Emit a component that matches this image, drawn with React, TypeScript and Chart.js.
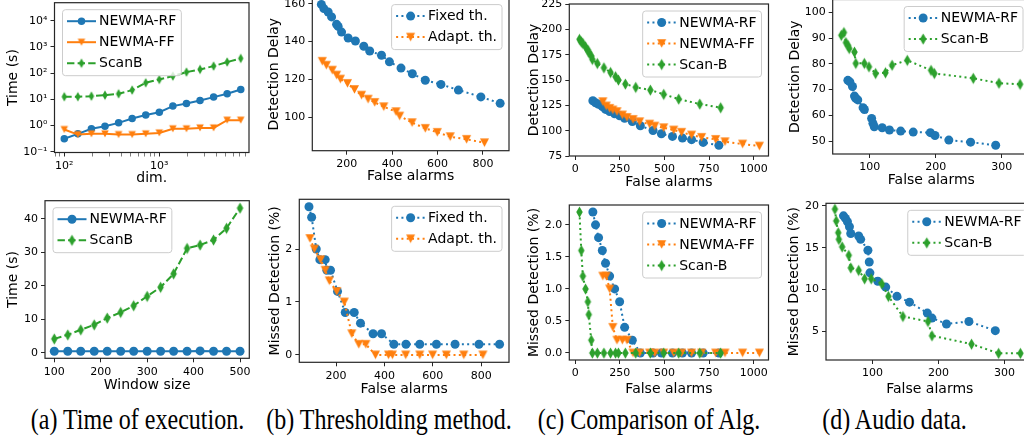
import React, { useEffect, useRef } from "react";
import { Chart, registerables } from "chart.js";

Chart.register(...registerables);

const FONT = '"DejaVu Sans", "Liberation Sans", sans-serif';
const TICK_SIZE = 11;
const TITLE_SIZE = 14;
const LEGEND_SIZE = 14;

const BLUE = "#1f77b4";
const ORANGE = "#ff7f0e";
const GREEN = "#2ca02c";

// ---------- (a) top : time vs dimension (log-log) ----------
const dims = [100, 139, 193, 268, 373, 518, 720, 1000, 1389, 1931, 2683, 3728, 5179, 7197];
const dimTimeRF = [0.31, 0.48, 0.75, 0.94, 1.26, 1.85, 2.5, 3.2, 5.5, 6.9, 9.0, 12.1, 16.2, 23.8];
const dimTimeFF = [0.7, 0.45, 0.48, 0.48, 0.45, 0.45, 0.48, 0.52, 0.75, 0.75, 0.81, 0.81, 1.6, 1.6];
const dimTimeScanB = [12.5, 12.5, 13.2, 14.4, 16.2, 22.4, 42.7, 57, 77, 109, 138, 185, 264, 363];
const dimMajorTicks = [100, 1000];
const dimMinorTicks = [80, 90, 200, 300, 400, 500, 600, 700, 800, 900, 2000, 3000, 4000, 5000, 6000, 7000, 8000];
const dimTimeTicks = [0.1, 1, 10, 100, 1000, 10000];

// ---------- (a) bottom : time vs window size ----------
const windowSizes = [100, 129, 157, 186, 214, 243, 271, 300, 329, 357, 386, 414, 443, 471, 500];
const winTimeRF = [0.5, 0.5, 0.5, 0.5, 0.5, 0.5, 0.5, 0.5, 0.5, 0.5, 0.5, 0.6, 0.5, 0.5, 0.5];
const winTimeScanB = [4.2, 5.4, 6.9, 8.4, 10.4, 12.1, 14.1, 16.9, 19.6, 23.6, 31.2, 32.2, 33.7, 37.2, 43.2];
const winTicks = [100, 200, 300, 400, 500];
const winTimeTicks = [0, 10, 20, 30, 40];

// ---------- (b) thresholding method ----------
const fixedFA = [88, 99, 118, 133, 155, 162, 177, 206, 238, 275, 301, 353, 388, 439, 489, 546, 615, 692, 791, 876];
const fixedDelay = [159.6, 157.4, 155.6, 153, 149.1, 148, 145, 141.9, 140.3, 137.5, 135, 132.8, 129.3, 126, 123, 119.6, 117.4, 114.4, 110.8, 107.4];
const fixedMissed = [2.8, 2.6, 2.0, 1.8, 1.8, 1.6, 1.6, 1.2, 0.8, 0.8, 0.6, 0.4, 0.4, 0.2, 0.2, 0.2, 0.2, 0.2, 0.2, 0.2];
const adaptFA = [92, 110, 136, 155, 172, 203, 234, 265, 294, 323, 363, 417, 433, 488, 546, 599, 656, 728, 807];
const adaptDelay = [129.6, 127.5, 124.9, 122.3, 120.2, 117.9, 114.7, 111.7, 109.6, 107.9, 105.6, 103, 100.7, 97.2, 94.2, 92.1, 89.8, 88.4, 86.6];
const adaptMissed = [2.2, 2.0, 1.8, 1.6, 1.4, 1.2, 1.0, 0.4, 0.2, 0.2, 0, 0, 0, 0, 0, 0, 0, 0, 0];
const bFATicks = [200, 400, 600, 800];
const bDelayTicks = [100, 120, 140, 160];
const bMissedTicks = [0, 1, 2];

// ---------- (c) comparison of algorithms ----------
const cRfFA = [99, 114, 131, 152, 170, 193, 221, 249, 277, 320, 365, 436, 483, 545, 601, 652, 717, 805];
const cRfDelay = [129.5, 127.6, 126, 123.7, 121, 118.8, 116.6, 114.6, 112.3, 109, 104.8, 100.2, 97, 94.3, 92.7, 91.1, 88.4, 85.5];
const cRfMissed = [2.2, 2.0, 1.8, 1.6, 1.4, 1.2, 1.0, 0.8, 0.4, 0.2, 0, 0, 0, 0, 0, 0, 0, 0];
const cFfFA = [155, 174, 193, 211, 234, 264, 290, 324, 361, 417, 446, 496, 552, 596, 652, 708, 787, 839, 938, 1032];
const cFfDelay = [128.6, 124.4, 122, 120.4, 118.8, 115.5, 113.1, 111.1, 108.8, 106.5, 104.5, 102.9, 100.6, 98.4, 95.7, 93.4, 91.4, 89.1, 86.8, 84.8];
const cFfMissed = [1.2, 1.2, 1.0, 0.4, 0.2, 0.2, 0.2, 0, 0, 0, 0, 0, 0, 0, 0, 0, 0, 0, 0, 0];
const cScanFA = [24, 34, 43, 58, 71, 76, 90, 96, 124, 161, 198, 226, 242, 281, 339, 421, 496, 580, 698, 815];
const cScanDelay = [190.2, 187.8, 186.2, 182.8, 179.6, 177.3, 173.7, 170.4, 166.4, 162.1, 157.5, 153.3, 150, 146.1, 142.8, 140.1, 135.9, 131.2, 126.3, 122.7];
const cScanMissed = [2.2, 1.6, 1.2, 1.0, 0.8, 0.6, 0.2, 0, 0, 0, 0, 0, 0, 0, 0, 0, 0, 0, 0, 0];
const cFATicks = [0, 250, 500, 750, 1000];
const cDelayTicks = [75, 100, 125, 150, 175, 200, 225];
const cMissedTicks = [0, 0.5, 1.0, 1.5, 2.0];

// ---------- (d) audio data ----------
const dRfFA = [67, 70, 74, 77, 79, 82, 90, 92, 103, 105, 107, 119, 130, 147, 166, 192, 199, 220, 253, 291];
const dRfDelay = [73.6, 73, 71.2, 67.5, 66.6, 66, 63, 62.3, 58.8, 56.9, 55.6, 55.2, 54.3, 53.9, 53.5, 53.3, 52.2, 50.4, 49.6, 48.4];
const dScanFA = [57, 61, 64, 67, 69, 77, 79, 92, 99, 109, 124, 134, 157, 193, 198, 257, 296, 328];
const dScanDelay = [91.1, 92.2, 88.3, 87.2, 86, 84.6, 80.2, 80.2, 78.9, 76.3, 76.6, 79.5, 81.4, 77.5, 76.3, 74.4, 72.5, 72.1];
const d2RfFA = [56, 59, 62, 65, 67, 79, 82, 93, 95, 96, 108, 120, 137, 156, 183, 190, 212, 246, 286];
const d2RfMissed = [18.8, 18.5, 18.1, 17.5, 16.7, 16.4, 16.0, 14.7, 13.3, 12.0, 11.0, 10.3, 9.2, 8.5, 7.2, 6.6, 5.9, 6.2, 5.1];
const d2ScanFA = [43, 45, 48, 49, 54, 64, 67, 79, 88, 98, 114, 124, 146, 184, 190, 250, 291, 324];
const d2ScanMissed = [19.6, 18.2, 16.8, 16.0, 15.1, 14.1, 12.6, 12.3, 11.3, 11.3, 10.7, 9.2, 6.8, 6.2, 4.5, 3.5, 2.4, 2.4];
const dFATicks = [100, 200, 300];
const dDelayTicks = [50, 60, 70, 80, 90, 100];
const dMissedTicks = [5, 10, 15, 20];

const captions = ["(a) Time of execution.", "(b) Thresholding method.", "(c) Comparison of Alg.", "(d) Audio data."];

// ---------- types ----------
type LineKind = "solid" | "dashed" | "dotted";
type MarkerKind = "o" | "v" | "d";
type Series = { label: string; x: number[]; y: number[]; color: string; line: LineKind; marker: MarkerKind };
type Box = { l: number; t: number; r: number; b: number };
type PanelDef = {
  box: Box;
  yTitleX: number;
  xTitleY: number;
  xLog?: boolean;
  yLog?: boolean;
  xMin: number;
  xMax: number;
  yMin: number;
  yMax: number;
  xTicks: number[];
  xMajor?: number[];
  yTicks: number[];
  xFmt: (v: number) => string;
  yFmt: (v: number) => string;
  xTitle: string;
  yTitle: string;
  series: Series[];
  legendLoc: "left" | "right";
  ms: number;
};

const SUP: Record<string, string> = { "-": "⁻", "0": "⁰", "1": "¹", "2": "²", "3": "³", "4": "⁴", "5": "⁵" };
const isDecade = (v: number) => Math.abs(Math.log10(v) - Math.round(Math.log10(v))) < 1e-9;
const logFmt = (v: number) => (isDecade(v) ? "10" + String(Math.round(Math.log10(v))).split("").map((c) => SUP[c]).join("") : "");
const intFmt = (v: number) => String(v);
const oneDec = (v: number) => v.toFixed(1);

const DASH: Record<LineKind, number[]> = { solid: [], dashed: [7.4, 3.2], dotted: [2, 3.3] };

function makeMarker(kind: MarkerKind, color: string, ms: number): any {
  if (kind === "o") return "circle";
  const w = kind === "v" ? ms : ms * 0.72;
  const h = kind === "v" ? ms * 0.95 : ms * 1.25;
  const c = document.createElement("canvas");
  c.width = Math.ceil(w) + 2;
  c.height = Math.ceil(h) + 2;
  const ctx = c.getContext("2d")!;
  const cx = c.width / 2;
  const cy = c.height / 2;
  ctx.fillStyle = color;
  ctx.beginPath();
  if (kind === "v") {
    ctx.moveTo(cx - w / 2, cy - h / 2);
    ctx.lineTo(cx + w / 2, cy - h / 2);
    ctx.lineTo(cx, cy + h / 2);
  } else {
    ctx.moveTo(cx, cy - h / 2);
    ctx.lineTo(cx + w / 2, cy);
    ctx.lineTo(cx, cy + h / 2);
    ctx.lineTo(cx - w / 2, cy);
  }
  ctx.closePath();
  ctx.fill();
  return c;
}

function roundRect(ctx: CanvasRenderingContext2D, x: number, y: number, w: number, h: number, r: number) {
  ctx.beginPath();
  ctx.moveTo(x + r, y);
  ctx.lineTo(x + w - r, y);
  ctx.arcTo(x + w, y, x + w, y + r, r);
  ctx.lineTo(x + w, y + h - r);
  ctx.arcTo(x + w, y + h, x + w - r, y + h, r);
  ctx.lineTo(x + r, y + h);
  ctx.arcTo(x, y + h, x, y + h - r, r);
  ctx.lineTo(x, y + r);
  ctx.arcTo(x, y, x + r, y, r);
  ctx.closePath();
}

const mplPlugin = {
  id: "mpl",
  afterDatasetsDraw(chart: any, _args: any, opts: any) {
    const ctx: CanvasRenderingContext2D = chart.ctx;
    const a = chart.chartArea;
    ctx.save();
    ctx.setLineDash([]);
    ctx.strokeStyle = "#262626";
    ctx.lineWidth = 1.2;
    ctx.strokeRect(a.left, a.top, a.right - a.left, a.bottom - a.top);

    const items = chart.data.datasets;
    ctx.font = `${LEGEND_SIZE}px ${FONT}`;
    let tw = 0;
    items.forEach((d: any) => {
      tw = Math.max(tw, ctx.measureText(d.label).width);
    });
    const padL = 4.5, handle = 29, gap = 3, padR = 5, rowH = 21;
    const w = padL + handle + gap + tw + padR;
    const h = items.length * rowH + 3;
    const x0 = opts.loc === "left" ? a.left + 8 : a.right - 7 - w;
    const y0 = a.top + 7;
    roundRect(ctx, x0, y0, w, h, 3);
    ctx.fillStyle = "rgba(255,255,255,0.8)";
    ctx.fill();
    ctx.strokeStyle = "#cccccc";
    ctx.lineWidth = 1;
    ctx.stroke();
    items.forEach((d: any, i: number) => {
      const cy = y0 + 11.5 + i * rowH;
      const hx = x0 + padL;
      ctx.beginPath();
      ctx.setLineDash(d.borderDash || []);
      ctx.lineCap = "butt";
      ctx.strokeStyle = d.borderColor;
      ctx.lineWidth = d.borderWidth;
      ctx.moveTo(hx, cy);
      ctx.lineTo(hx + handle, cy);
      ctx.stroke();
      ctx.setLineDash([]);
      const mx = hx + handle / 2;
      const ps = d.pointStyle;
      if (typeof ps === "string") {
        ctx.beginPath();
        ctx.arc(mx, cy, d.pointRadius, 0, Math.PI * 2);
        ctx.fillStyle = d.backgroundColor;
        ctx.fill();
      } else {
        ctx.drawImage(ps, mx - ps.width / 2, cy - ps.height / 2);
      }
      ctx.fillStyle = "#000";
      ctx.textBaseline = "middle";
      ctx.textAlign = "left";
      ctx.fillText(d.label, hx + handle + gap, cy + 0.5);
    });
    ctx.restore();
  },
};

function buildConfig(def: PanelDef, yW: number, xH: number, padTop: number, padRight: number): any {
  const n = def.series.length;
  const datasets = def.series.map((s, i) => ({
    label: s.label,
    data: s.x.map((x, k) => ({ x, y: s.y[k] })),
    showLine: true,
    borderColor: s.color,
    backgroundColor: s.color,
    borderWidth: 2,
    borderDash: DASH[s.line],
    borderCapStyle: "butt",
    pointStyle: makeMarker(s.marker, s.color, def.ms),
    pointRadius: def.ms / 2,
    pointBorderWidth: 0,
    pointBackgroundColor: s.color,
    pointBorderColor: s.color,
    tension: 0,
    order: n - i,
  }));
  const majorSet = new Set(def.xMajor || def.xTicks);
  const tickFont = { family: FONT, size: TICK_SIZE };
  const titleFont = { family: FONT, size: TITLE_SIZE };
  return {
    type: "scatter",
    data: { datasets },
    options: {
      animation: false,
      responsive: true,
      maintainAspectRatio: false,
      events: [],
      layout: { padding: { left: 0, top: padTop, right: padRight, bottom: 0 } },
      plugins: { legend: { display: false }, tooltip: { enabled: false }, mpl: { loc: def.legendLoc } },
      scales: {
        x: {
          type: def.xLog ? "logarithmic" : "linear",
          min: def.xMin,
          max: def.xMax,
          afterBuildTicks: (s: any) => {
            s.ticks = def.xTicks.map((v) => ({ value: v }));
          },
          afterFit: (s: any) => {
            s.height = xH;
          },
          border: { display: false },
          grid: {
            drawOnChartArea: false,
            drawTicks: true,
            tickLength: 4,
            tickColor: "#262626",
            tickWidth: (c: any) => (c.tick && majorSet.has(c.tick.value) ? 1 : 0.6),
          },
          ticks: {
            autoSkip: false,
            maxRotation: 0,
            minRotation: 0,
            padding: 3,
            color: "#000",
            font: tickFont,
            callback: (v: any) => def.xFmt(Number(v)),
          },
          title: { display: true, text: def.xTitle, color: "#000", font: titleFont, padding: 0 },
        },
        y: {
          type: def.yLog ? "logarithmic" : "linear",
          min: def.yMin,
          max: def.yMax,
          afterBuildTicks: (s: any) => {
            s.ticks = def.yTicks.map((v) => ({ value: v }));
          },
          afterFit: (s: any) => {
            s.width = yW;
          },
          border: { display: false },
          grid: { drawOnChartArea: false, drawTicks: true, tickLength: 4, tickColor: "#262626", tickWidth: 1 },
          ticks: {
            autoSkip: false,
            padding: 3,
            color: "#000",
            font: tickFont,
            callback: (v: any) => def.yFmt(Number(v)),
          },
          title: { display: true, text: def.yTitle, color: "#000", font: titleFont, padding: 0 },
        },
      },
    },
    plugins: [mplPlugin],
  };
}

const panels: PanelDef[] = [
  {
    box: { l: 54.5, t: 2.7, r: 249, b: 152.5 },
    yTitleX: 13.7,
    xTitleY: 179,
    xLog: true,
    yLog: true,
    xMin: 78.9,
    xMax: 8790,
    yMin: 0.093,
    yMax: 48700,
    xTicks: [...dimMinorTicks, ...dimMajorTicks].sort((a, b) => a - b),
    xMajor: dimMajorTicks,
    yTicks: dimTimeTicks,
    xFmt: logFmt,
    yFmt: logFmt,
    xTitle: "dim.",
    yTitle: "Time (s)",
    legendLoc: "left",
    ms: 7.5,
    series: [
      { label: "NEWMA-RF", x: dims, y: dimTimeRF, color: BLUE, line: "solid", marker: "o" },
      { label: "NEWMA-FF", x: dims, y: dimTimeFF, color: ORANGE, line: "solid", marker: "v" },
      { label: "ScanB", x: dims, y: dimTimeScanB, color: GREEN, line: "dashed", marker: "d" },
    ],
  },
  {
    box: { l: 312.3, t: -2.4, r: 509, b: 150.7 },
    yTitleX: 274,
    xTitleY: 176.5,
    xMin: 48,
    xMax: 915,
    yMin: 82.4,
    yMax: 163.2,
    xTicks: bFATicks,
    yTicks: bDelayTicks,
    xFmt: intFmt,
    yFmt: intFmt,
    xTitle: "False alarms",
    yTitle: "Detection Delay",
    legendLoc: "right",
    ms: 9,
    series: [
      { label: "Fixed th.", x: fixedFA, y: fixedDelay, color: BLUE, line: "dotted", marker: "o" },
      { label: "Adapt. th.", x: adaptFA, y: adaptDelay, color: ORANGE, line: "dotted", marker: "v" },
    ],
  },
  {
    box: { l: 569.3, t: 4, r: 768.5, b: 156 },
    yTitleX: 534.5,
    xTitleY: 183,
    xMin: -33,
    xMax: 1083,
    yMin: 75,
    yMax: 225,
    xTicks: cFATicks,
    yTicks: cDelayTicks,
    xFmt: intFmt,
    yFmt: intFmt,
    xTitle: "False alarms",
    yTitle: "Detection Delay",
    legendLoc: "right",
    ms: 9,
    series: [
      { label: "NEWMA-RF", x: cRfFA, y: cRfDelay, color: BLUE, line: "dotted", marker: "o" },
      { label: "NEWMA-FF", x: cFfFA, y: cFfDelay, color: ORANGE, line: "dotted", marker: "v" },
      { label: "Scan-B", x: cScanFA, y: cScanDelay, color: GREEN, line: "dotted", marker: "d" },
    ],
  },
  {
    box: { l: 832.7, t: -0.5, r: 1030, b: 154 },
    yTitleX: 795,
    xTitleY: 180.5,
    xMin: 44,
    xMax: 343,
    yMin: 45,
    yMax: 105,
    xTicks: dFATicks,
    yTicks: dDelayTicks,
    xFmt: intFmt,
    yFmt: intFmt,
    xTitle: "False alarms",
    yTitle: "Detection Delay",
    legendLoc: "right",
    ms: 9,
    series: [
      { label: "NEWMA-RF", x: dRfFA, y: dRfDelay, color: BLUE, line: "dotted", marker: "o" },
      { label: "Scan-B", x: dScanFA, y: dScanDelay, color: GREEN, line: "dotted", marker: "d" },
    ],
  },
  {
    box: { l: 45, t: 200.7, r: 249.3, b: 358.3 },
    yTitleX: 13.7,
    xTitleY: 385.5,
    xMin: 80,
    xMax: 520,
    yMin: -1.6,
    yMax: 45.4,
    xTicks: winTicks,
    yTicks: winTimeTicks,
    xFmt: intFmt,
    yFmt: intFmt,
    xTitle: "Window size",
    yTitle: "Time (s)",
    legendLoc: "left",
    ms: 9,
    series: [
      { label: "NEWMA-RF", x: windowSizes, y: winTimeRF, color: BLUE, line: "solid", marker: "o" },
      { label: "ScanB", x: windowSizes, y: winTimeScanB, color: GREEN, line: "dashed", marker: "d" },
    ],
  },
  {
    box: { l: 299.3, t: 199.3, r: 509, b: 362.3 },
    yTitleX: 275.5,
    xTitleY: 390,
    xMin: 48,
    xMax: 915,
    yMin: -0.14,
    yMax: 2.94,
    xTicks: bFATicks,
    yTicks: bMissedTicks,
    xFmt: intFmt,
    yFmt: intFmt,
    xTitle: "False alarms",
    yTitle: "Missed Detection (%)",
    legendLoc: "right",
    ms: 9,
    series: [
      { label: "Fixed th.", x: fixedFA, y: fixedMissed, color: BLUE, line: "dotted", marker: "o" },
      { label: "Adapt. th.", x: adaptFA, y: adaptMissed, color: ORANGE, line: "dotted", marker: "v" },
    ],
  },
  {
    box: { l: 569.3, t: 205, r: 768.5, b: 360 },
    yTitleX: 534.5,
    xTitleY: 390,
    xMin: -33,
    xMax: 1083,
    yMin: -0.11,
    yMax: 2.31,
    xTicks: cFATicks,
    yTicks: cMissedTicks,
    xFmt: intFmt,
    yFmt: oneDec,
    xTitle: "False alarms",
    yTitle: "Missed Detection (%)",
    legendLoc: "right",
    ms: 9,
    series: [
      { label: "NEWMA-RF", x: cRfFA, y: cRfMissed, color: BLUE, line: "dotted", marker: "o" },
      { label: "NEWMA-FF", x: cFfFA, y: cFfMissed, color: ORANGE, line: "dotted", marker: "v" },
      { label: "Scan-B", x: cScanFA, y: cScanMissed, color: GREEN, line: "dotted", marker: "d" },
    ],
  },
  {
    box: { l: 826, t: 203.3, r: 1033.6, b: 360 },
    yTitleX: 794,
    xTitleY: 390,
    xMin: 29.5,
    xMax: 344,
    yMin: 1.6,
    yMax: 20.3,
    xTicks: dFATicks,
    yTicks: dMissedTicks,
    xFmt: intFmt,
    yFmt: intFmt,
    xTitle: "False alarms",
    yTitle: "Missed Detection (%)",
    legendLoc: "right",
    ms: 9,
    series: [
      { label: "NEWMA-RF", x: d2RfFA, y: d2RfMissed, color: BLUE, line: "dotted", marker: "o" },
      { label: "Scan-B", x: d2ScanFA, y: d2ScanMissed, color: GREEN, line: "dotted", marker: "d" },
    ],
  },
];

function PanelView({ def }: { def: PanelDef }) {
  const ref = useRef<HTMLCanvasElement>(null);
  const lh = TITLE_SIZE * 1.2;
  const cl = Math.round(def.yTitleX - lh / 2);
  const ct = Math.round(def.box.t - 14);
  const cr = Math.round(def.box.r + 16);
  const cb = Math.round(def.xTitleY + lh / 2);
  const yW = def.box.l - cl;
  const xH = cb - def.box.b;
  useEffect(() => {
    const chart = new Chart(ref.current as HTMLCanvasElement, buildConfig(def, yW, xH, def.box.t - ct, cr - def.box.r));
    return () => chart.destroy();
  }, []);
  return (
    <div style={{ position: "absolute", left: cl, top: ct, width: cr - cl, height: cb - ct }}>
      <canvas ref={ref} />
    </div>
  );
}

const captionCenters = [137.5, 389, 649, 894.5];

export default function App() {
  return (
    <div style={{ position: "fixed", left: 0, top: 0, width: 1024, height: 444, overflow: "hidden", background: "#fff" }}>
      {panels.map((p, i) => (
        <PanelView key={i} def={p} />
      ))}
      {captions.map((c, i) => (
        <div
          key={c}
          style={{
            position: "absolute",
            left: captionCenters[i],
            top: 418.5,
            transform: "translate(-50%, -50%) scaleY(1.2)",
            fontFamily: '"Liberation Serif", "DejaVu Serif", serif',
            fontSize: 24,
            lineHeight: "26px",
            whiteSpace: "nowrap",
            color: "#000",
          }}
        >
          {c}
        </div>
      ))}
    </div>
  );
}
